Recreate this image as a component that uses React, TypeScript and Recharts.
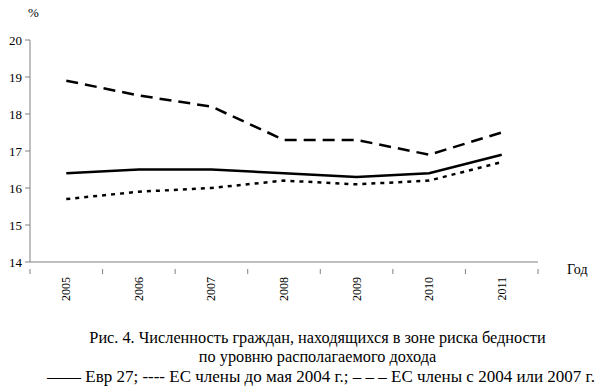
import React from "react";
import { LineChart, Line, XAxis, YAxis } from "recharts";

const years = ["2005", "2006", "2007", "2008", "2009", "2010", "2011"];
const eu27 = [16.4, 16.5, 16.5, 16.4, 16.3, 16.4, 16.9];
const oldMembers = [15.7, 15.9, 16.0, 16.2, 16.1, 16.2, 16.7];
const newMembers = [18.9, 18.5, 18.2, 17.3, 17.3, 16.9, 17.5];
const yTicks = [14, 15, 16, 17, 18, 19, 20];

const data = years.map((y, i) => ({
  pos: i + 0.5,
  year: y,
  eu27: eu27[i],
  oldMembers: oldMembers[i],
  newMembers: newMembers[i],
}));

const xTicks: number[] = [];
for (let i = 0; i <= years.length * 2; i++) xTicks.push(i / 2);

const FONT = "'Liberation Serif', 'Times New Roman', serif";
const AXIS = "#808080";

const XTick = (props: any) => {
  const { x, y, payload } = props;
  const v = payload.value as number;
  if (Number.isInteger(v)) {
    return <line x1={x} x2={x} y1={y - 1} y2={y + 4} stroke={AXIS} strokeWidth={1} />;
  }
  const idx = Math.floor(v);
  return (
    <text
      x={x}
      y={y + 7}
      transform={`rotate(-90, ${x}, ${y + 7})`}
      textAnchor="end"
      dominantBaseline="central"
      fontFamily={FONT}
      fontSize={12}
      fill="#000"
    >
      {years[idx]}
    </text>
  );
};

const lineStyle: React.CSSProperties = {
  position: "absolute",
  whiteSpace: "nowrap",
  fontSize: 16.3,
  lineHeight: "19px",
};

export default function App() {
  return (
    <div style={{ position: "absolute", left: 0, top: 0, width: 595, height: 387, overflow: "hidden", background: "#fff", fontFamily: FONT, color: "#000" }}>
      <LineChart
        width={595}
        height={387}
        data={data}
        margin={{ top: 40, right: 57, bottom: 80, left: 0 }}
      >
        <XAxis
          dataKey="pos"
          type="number"
          domain={[0, years.length]}
          ticks={xTicks}
          interval={0}
          tickLine={false}
          axisLine={{ stroke: AXIS }}
          tick={<XTick />}
          height={45}
        />
        <YAxis
          type="number"
          domain={[14, 20]}
          ticks={yTicks}
          interval={0}
          width={30}
          tickSize={5}
          tickMargin={3}
          axisLine={{ stroke: AXIS }}
          tickLine={{ stroke: AXIS }}
          tick={{ fontFamily: FONT, fontSize: 13, fill: "#000" }}
        />
        <Line
          dataKey="newMembers"
          stroke="#000"
          strokeWidth={2.5}
          strokeDasharray="12 7"
          dot={false}
          isAnimationActive={false}
        />
        <Line
          dataKey="eu27"
          stroke="#000"
          strokeWidth={2.5}
          dot={false}
          isAnimationActive={false}
        />
        <Line
          dataKey="oldMembers"
          stroke="#000"
          strokeWidth={2.5}
          strokeDasharray="4 5"
          dot={false}
          isAnimationActive={false}
        />
      </LineChart>
      <div style={{ position: "absolute", left: 28, top: 5, fontSize: 13 }}>%</div>
      <div style={{ position: "absolute", left: 567, top: 262, fontSize: 14 }}>Год</div>
      <div style={{ ...lineStyle, left: 0, width: 635, textAlign: "center", top: 328 }}>
        Рис. 4. Численность граждан, находящихся в зоне риска бедности
      </div>
      <div style={{ ...lineStyle, left: 0, width: 635, textAlign: "center", top: 347 }}>
        по уровню располагаемого дохода
      </div>
      <div style={{ ...lineStyle, left: 47, top: 367, fontSize: 17 }}>
        —— Евр 27; ---- ЕС члены до мая 2004 г.; – – – ЕС члены с 2004 или 2007 г.
      </div>
    </div>
  );
}
